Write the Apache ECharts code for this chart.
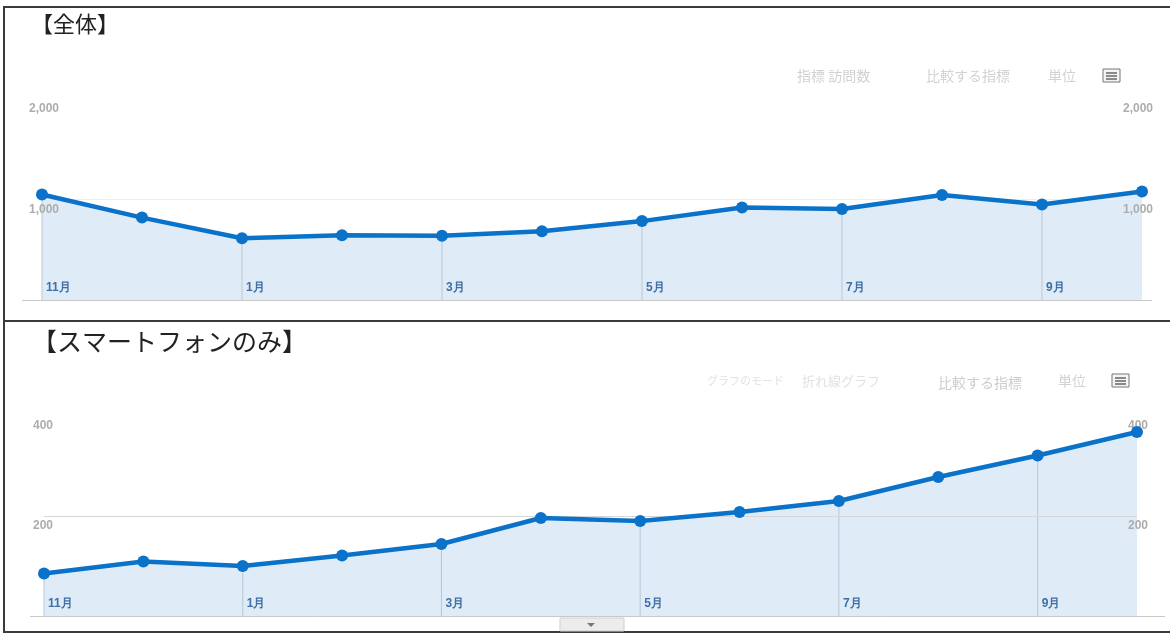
<!DOCTYPE html>
<html>
<head>
<meta charset="utf-8">
<script src="https://cdn.jsdelivr.net/npm/echarts@6/dist/echarts.min.js"></script>
<style>
html,body{margin:0;padding:0;background:#fff;}
#c{width:1170px;height:635px;}
</style>
</head>
<body>
<div id="c"></div>
<script>
// ---- data ----
const months = ['11月','12月','1月','2月','3月','4月','5月','6月','7月','8月','9月','10月'];
const totalVisits = [1050, 820, 615, 645, 640, 685, 785, 920, 905, 1045, 950, 1080];
const phoneVisits = [85, 109, 100, 121, 144, 196, 190, 208, 230, 278, 321, 368];
const totalTicks = [0, 1000, 2000];
const phoneTicks = [0, 200, 400];
const titleTotal = '【全体】';
const titlePhone = '【スマートフォンのみ】';

const LINE = '#0a72c8';
const FILL = '#dfecf7';
const VLINE = '#b7c7d4';

function every2(arr){ return arr.map((v,i)=> i%2===0 ? v : '-'); }
function fmtNum(v){ return v===0 ? '' : v.toLocaleString('en-US'); }

function yAxes(gridIndex, ticks, leftMargin, splitColors){
  const max = ticks[ticks.length-1], interval = ticks[1]-ticks[0];
  const common = {
    type:'value', gridIndex, min:ticks[0], max, interval, z:10,
    axisLine:{show:false}, axisTick:{show:false}
  };
  return [
    Object.assign({}, common, {
      position:'left',
      splitLine:{show:true, lineStyle:{color:splitColors, width:1}},
      axisLabel:{inside:true, margin:leftMargin, verticalAlign:'top', padding:[4,0,0,0],
        color:'#adadad', fontSize:12, fontWeight:'bold', fontFamily:'Liberation Sans, Arial',
        formatter:fmtNum}
    }),
    Object.assign({}, common, {
      position:'right',
      splitLine:{show:false},
      axisLabel:{inside:true, margin:-11, verticalAlign:'top', padding:[4,0,0,0],
        color:'#adadad', fontSize:12, fontWeight:'bold', fontFamily:'Liberation Sans, Arial',
        formatter:fmtNum}
    })
  ];
}

function xAxis(gridIndex){
  return {
    type:'category', gridIndex, data:months, boundaryGap:false, z:10,
    axisLine:{show:false}, axisTick:{show:false}, splitLine:{show:false},
    axisLabel:{inside:true, interval:1, margin:6, align:'left', verticalAlign:'bottom',
      padding:[0,0,0,4], color:'#3f6fa6', fontSize:12, fontWeight:'bold',
      fontFamily:'Liberation Sans, Arial'}
  };
}

function seriesFor(idx, yIdx, data){
  return [
    {type:'line', xAxisIndex:idx, yAxisIndex:yIdx, data, showSymbol:false, silent:true,
     lineStyle:{width:0}, areaStyle:{color:FILL, opacity:1}, z:1},
    {type:'bar', xAxisIndex:idx, yAxisIndex:yIdx, data:every2(data), barWidth:1,
     itemStyle:{color:VLINE}, silent:true, z:2},
    {type:'line', xAxisIndex:idx, yAxisIndex:yIdx, data, symbol:'circle', symbolSize:12,
     lineStyle:{color:LINE, width:4.5}, itemStyle:{color:LINE}, z:12}
  ];
}

function menuIcon(x, y){
  return {type:'group', x, y, children:[
    {type:'rect', shape:{x:0,y:0,width:17,height:13}, style:{fill:'#f4f4f4', stroke:'#777', lineWidth:1}},
    {type:'line', shape:{x1:3,y1:4,x2:14,y2:4}, style:{stroke:'#666', lineWidth:1.5}},
    {type:'line', shape:{x1:3,y1:7,x2:14,y2:7}, style:{stroke:'#666', lineWidth:1.5}},
    {type:'line', shape:{x1:3,y1:10,x2:14,y2:10}, style:{stroke:'#666', lineWidth:1.5}}
  ]};
}
function faint(text, x, y, color, size){
  return {type:'text', x, y, style:{text, fill:color||'#d2d2d2', fontSize:size||14,
    fontFamily:'Noto Sans CJK JP', textVerticalAlign:'middle'}};
}

const chart = echarts.init(document.getElementById('c'), null, {renderer:'canvas'});
chart.setOption({
  backgroundColor:'#fff',
  animation:false,
  grid:[
    {left:42, right:28, top:99, bottom:335},
    {left:44, right:33, top:416, bottom:19}
  ],
  xAxis:[xAxis(0), xAxis(1)],
  yAxis:[].concat(
    yAxes(0, totalTicks, -13, ['rgba(0,0,0,0)', '#eeeeee', 'rgba(0,0,0,0)']),
    yAxes(1, phoneTicks, -11, ['rgba(0,0,0,0)', '#d6d6d6', 'rgba(0,0,0,0)'])),
  series:[].concat(seriesFor(0, 0, totalVisits), seriesFor(1, 2, phoneVisits)),
  graphic:[
    // panel borders
    {type:'line', shape:{x1:4,y1:7,x2:1170,y2:7}, style:{stroke:'#3a3a3a', lineWidth:2}},
    {type:'line', shape:{x1:4,y1:321,x2:1170,y2:321}, style:{stroke:'#3a3a3a', lineWidth:2}},
    {type:'line', shape:{x1:4,y1:632,x2:1170,y2:632}, style:{stroke:'#3a3a3a', lineWidth:2}},
    {type:'line', shape:{x1:4,y1:6,x2:4,y2:633}, style:{stroke:'#3a3a3a', lineWidth:2}},
    // baselines
    {type:'line', shape:{x1:22,y1:300.5,x2:1152,y2:300.5}, style:{stroke:'#c9c9c9', lineWidth:1}},
    {type:'line', shape:{x1:30,y1:616.5,x2:1165,y2:616.5}, style:{stroke:'#c9c9c9', lineWidth:1}},
    {type:'rect', shape:{x:560,y:618,width:64,height:13}, style:{fill:'#ececec', stroke:'#cfcfcf', lineWidth:1}},
    {type:'polygon', shape:{points:[[587,623],[595,623],[591,627]]}, style:{fill:'#777'}},
    // titles
    {type:'text', x:31, y:24, style:{text:titleTotal, fill:'#222', fontSize:22,
      fontFamily:'Noto Sans CJK JP', textVerticalAlign:'middle'}},
    {type:'text', x:32, y:341, style:{text:titlePhone, fill:'#222', fontSize:25,
      fontFamily:'Noto Sans CJK JP', textVerticalAlign:'middle'}},
    // toolbars
    faint('指標 訪問数', 797, 76),
    faint('比較する指標', 926, 76),
    faint('単位', 1048, 76),
    menuIcon(1103, 69),
    faint('グラフのモード', 707, 381, '#e2e2e2', 11),
    faint('折れ線グラフ', 802, 381, '#e2e2e2', 13),
    faint('比較する指標', 938, 383, '#cdcdcd'),
    faint('単位', 1058, 381),
    menuIcon(1112, 374)
  ]
});
</script>
</body>
</html>
